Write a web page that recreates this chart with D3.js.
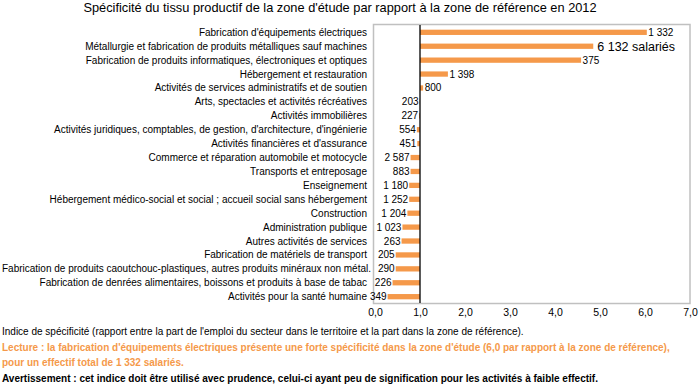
<!DOCTYPE html>
<html>
<head>
<meta charset="utf-8">
<script src="https://cdn.jsdelivr.net/npm/d3@7"></script>
<style>
    body { margin: 0; background: #fff; }
    svg text { font-family: "Liberation Sans Narrow", "Arial Narrow", "Liberation Sans", sans-serif; }
</style>
</head>
<body>
<div id="chart"></div>
<script>
const dim = {
    width: 700,
    height: 384
}

// data
const categories = [
    "Fabrication d'équipements électriques",
    "Métallurgie et fabrication de produits métalliques sauf machines",
    "Fabrication de produits informatiques, électroniques et optiques",
    "Hébergement et restauration",
    "Activités de services administratifs et de soutien",
    "Arts, spectacles et activités récréatives",
    "Activités immobilières",
    "Activités juridiques, comptables, de gestion, d'architecture, d'ingénierie",
    "Activités financières et d'assurance",
    "Commerce et réparation automobile et motocycle",
    "Transports et entreposage",
    "Enseignement",
    "Hébergement médico-social et social ; accueil social sans hébergement",
    "Construction",
    "Administration publique",
    "Autres activités de services",
    "Fabrication de matériels de transport",
    "Fabrication de produits caoutchouc-plastiques, autres produits minéraux non métal.",
    "Fabrication de denrées alimentaires, boissons et produits à base de tabac",
    "Activités pour la santé humaine"
]
const indices = [6.04, 4.85, 4.58, 1.62, 1.07, 0.99, 0.98, 0.93, 0.94, 0.79,
    0.79, 0.76, 0.76, 0.72, 0.61, 0.59, 0.46, 0.46, 0.39, 0.28]
const effectifs = ["1 332", "6 132 salariés", "375", "1 398", "800", "203", "227", "554", "451", "2 587",
    "883", "1 180", "1 252", "1 204", "1 023", "263", "205", "290", "226", "349"]
const xTicks = [0, 1, 2, 3, 4, 5, 6, 7]

const title = "Spécificité du tissu productif de la zone d'étude par rapport à la zone de référence en 2012"
const notes = [
    "Indice de spécificité (rapport entre la part de l'emploi du secteur dans le territoire et la part dans la zone de référence).",
    "Lecture : la fabrication d'équipements électriques présente une forte spécificité dans la zone d'étude (6,0 par rapport à la zone de référence),",
    "pour un effectif total de 1 332 salariés.",
    "Avertissement : cet indice doit être utilisé avec prudence, celui-ci ayant peu de signification pour les activités à faible effectif."
]

const orange = '#f5994a'
const rows = categories.map((c, i) => ({ cat: c, value: indices[i], label: effectifs[i] }))

const svg = d3.select('#chart')
    .append('svg')
        .attr('width', dim.width)
        .attr('height', dim.height)

// scales
const xScale = d3.scaleLinear()
    .domain([0, 7])
    .range([375, 690])

const yScale = d3.scaleBand()
    .domain(categories)
    .range([25.5, 303.5])
    .paddingInner(0.62)
    .paddingOuter(0.3)

// title
svg.append('text')
    .attr('x', 340)
    .attr('y', 12)
    .attr('text-anchor', 'middle')
    .attr('font-size', 12.8)
    .attr('fill', '#000')
    .text(title)

// plot frame
svg.append('rect')
    .attr('x', xScale(0) - 1.5)
    .attr('y', 24.5)
    .attr('width', xScale(7) - xScale(0) + 1.5)
    .attr('height', 279)
    .attr('fill', 'none')
    .attr('stroke', '#c0c0c0')
    .attr('stroke-width', 1.5)

// bars from 1.0
svg.append('g')
    .selectAll('rect')
    .data(rows)
    .join('rect')
        .attr('x', d => xScale(Math.min(d.value, 1)))
        .attr('y', d => yScale(d.cat))
        .attr('width', d => Math.abs(xScale(d.value) - xScale(1)))
        .attr('height', yScale.bandwidth())
        .attr('fill', orange)

// reference line at 1
svg.append('line')
    .attr('x1', xScale(1)).attr('x2', xScale(1))
    .attr('y1', 25).attr('y2', 303)
    .attr('stroke', '#000')
    .attr('stroke-width', 1.3)

// value labels
svg.append('g')
    .selectAll('text')
    .data(rows)
    .join('text')
        .attr('x', d => d.value > 1 ? xScale(d.value) + (d.label.length > 6 ? 4 : 1.5) : xScale(d.value) - 1)
        .attr('y', d => yScale(d.cat) + yScale.bandwidth() / 2)
        .attr('dy', '0.35em')
        .attr('text-anchor', d => d.value > 1 ? 'start' : 'end')
        .attr('font-size', d => d.label.length > 6 ? 12.5 : 10)
        .text(d => d.label)

// category labels
const catLabels = svg.append('g')
    .selectAll('text')
    .data(rows)
    .join('text')
        .attr('x', 367)
        .attr('y', d => yScale(d.cat) + yScale.bandwidth() / 2)
        .attr('dy', '0.35em')
        .attr('text-anchor', 'end')
        .attr('font-size', 10)
        .text(d => d.cat)

// too long labels: start at left edge and squeeze
catLabels.each(function() {
    const w = this.getComputedTextLength()
    if (w > 364) {
        d3.select(this)
            .attr('x', 2)
            .attr('text-anchor', 'start')
            .attr('textLength', 369)
            .attr('lengthAdjust', 'spacingAndGlyphs')
    }
})

// x axis
const xAxis = d3.axisBottom(xScale)
    .tickValues(xTicks)
    .tickSize(0)
    .tickPadding(5)
    .tickFormat(d => d3.format('.1f')(d).replace('.', ','))

svg.append('g')
    .attr('transform', 'translate(0, 304)')
    .call(xAxis)
    .call(g => g.select('.domain').remove())
    .call(g => g.selectAll('text')
        .attr('font-size', 10.5)
        .attr('fill', '#000')
        .attr('font-family', '"Liberation Sans Narrow", "Arial Narrow", "Liberation Sans", sans-serif'))

// notes
svg.append('g')
    .selectAll('text')
    .data(notes)
    .join('text')
        .attr('x', 2)
        .attr('y', (d, i) => 335 + i * 15.6)
        .attr('font-size', 10)
        .attr('font-weight', (d, i) => i === 0 ? 'normal' : 'bold')
        .attr('fill', (d, i) => i === 1 || i === 2 ? orange : '#000')
        .text(d => d)
</script>
</body>
</html>
